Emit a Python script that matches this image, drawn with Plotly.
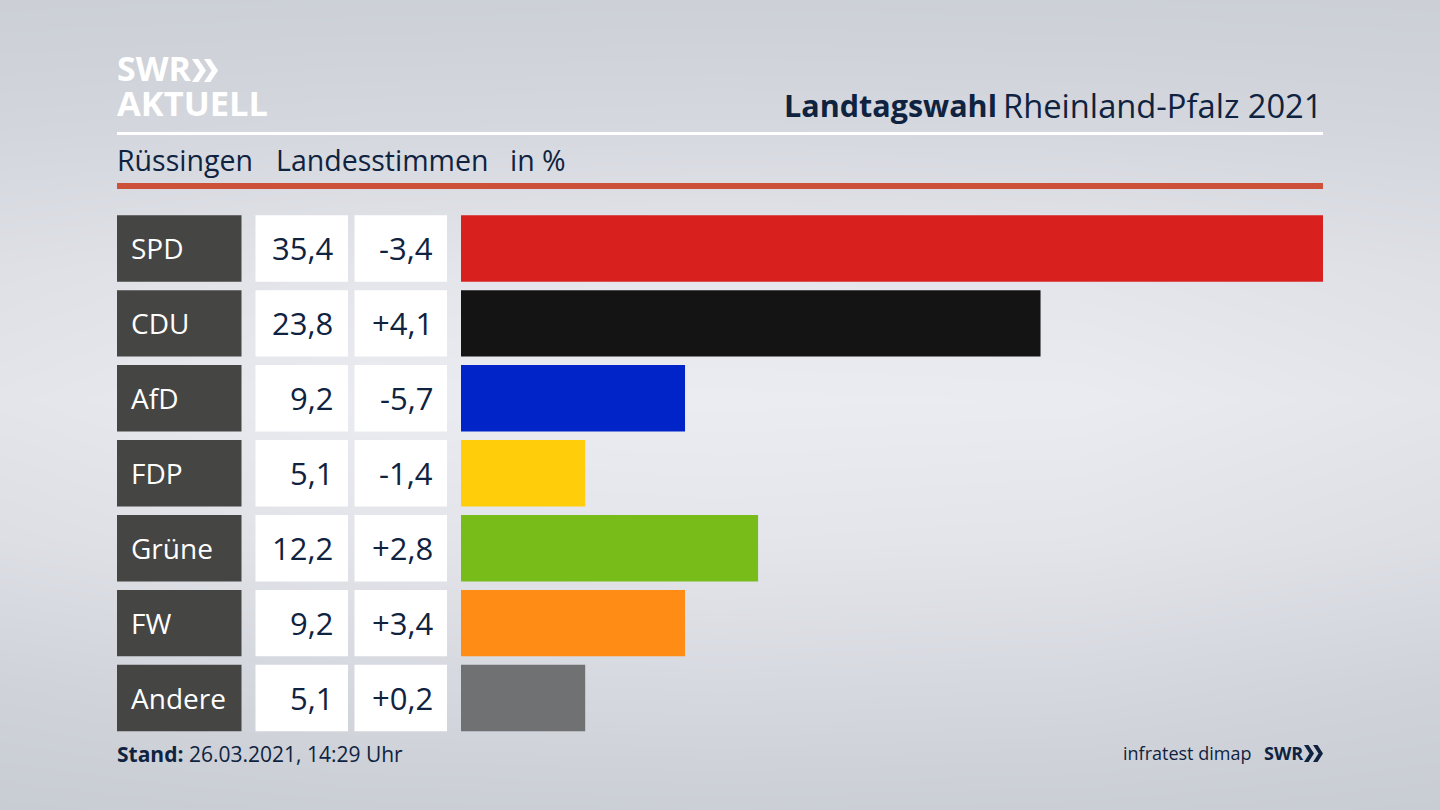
import plotly.graph_objects as go

# =============================================================================
# Data
# =============================================================================
parties = ['SPD', 'CDU', 'AfD', 'FDP', 'Grüne', 'FW', 'Andere']
shares = [35.4, 23.8, 9.2, 5.1, 12.2, 9.2, 5.1]
changes = [-3.4, 4.1, -5.7, -1.4, 2.8, 3.4, 0.2]
bar_colors = ['#d8201f', '#141414', '#0024c8', '#ffcd0a', '#78bc1a', '#ff8c14', '#707173']

# background brightness (rows top to bottom)
bg_x = [0, 360, 720, 1080, 1440]
bg_y = [0, 130, 270, 400, 540, 680, 810]
bg_levels = [
    [0.10, 0.12, 0.13, 0.12, 0.10],
    [0.30, 0.36, 0.38, 0.36, 0.30],
    [0.62, 0.78, 0.82, 0.78, 0.62],
    [0.78, 0.98, 1.00, 0.98, 0.78],
    [0.58, 0.76, 0.80, 0.76, 0.58],
    [0.22, 0.38, 0.42, 0.38, 0.22],
    [0.00, 0.06, 0.08, 0.06, 0.00],
]

NAVY = '#0f2340'
FONT = 'Open Sans'


def px_x(v):
    return v / 1440


def px_y(v):
    return 1 - v / 810


def de(v, sign=False):
    return (f'{v:+.1f}' if sign else f'{v:.1f}').replace('.', ',')


fig = go.Figure()

# gradient background
fig.add_trace(go.Heatmap(
    x=bg_x, y=bg_y, z=bg_levels, zsmooth='best', showscale=False, hoverinfo='skip',
    colorscale=[[0, '#c8ccd3'], [1, '#ebecf1']], zmin=0, zmax=1,
    xaxis='x', yaxis='y',
))

# result bars
fig.add_trace(go.Bar(
    x=shares, y=parties, orientation='h', marker_color=bar_colors, marker_line_width=0,
    xaxis='x2', yaxis='y2', hovertemplate='%{y}: %{x}<extra></extra>',
))

fig.update_layout(
    width=1440, height=810, margin=dict(l=0, r=0, t=0, b=0),
    showlegend=False, bargap=0.113,
    paper_bgcolor='#dfe1e6', plot_bgcolor='rgba(0,0,0,0)',
    font=dict(family=FONT, color=NAVY),
    xaxis=dict(domain=[0, 1], range=[0, 1440], visible=False, fixedrange=True),
    yaxis=dict(domain=[0, 1], range=[810, 0], visible=False, fixedrange=True),
    xaxis2=dict(domain=[px_x(461), px_x(1323)], range=[0, 35.4], visible=False, anchor='y2'),
    yaxis2=dict(domain=[px_y(735.5), px_y(211)], range=[6.5, -0.5], type='category',
                categoryorder='array', categoryarray=parties, visible=False, anchor='x2'),
)

# table cells in front of the bars column
half = 0.4435
for i, (party, share, change) in enumerate(zip(parties, shares, changes)):
    for x0, x1, color in [(117, 241.5, '#454543'), (255.5, 348, '#ffffff'), (354.5, 447, '#ffffff')]:
        fig.add_shape(type='rect', xref='x', yref='y2', x0=x0, x1=x1, y0=i - half, y1=i + half,
                      fillcolor=color, line_width=0)
    fig.add_annotation(xref='x', yref='y2', x=129, y=i, text=party, showarrow=False, xanchor='left',
                       font=dict(size=28, color='#ffffff'))
    fig.add_annotation(xref='x', yref='y2', x=335, y=i, text=de(share), showarrow=False, xanchor='right',
                       font=dict(size=31, color=NAVY))
    fig.add_annotation(xref='x', yref='y2', x=435, y=i, text=de(change, sign=True), showarrow=False,
                       xanchor='right', font=dict(size=31, color=NAVY))

# rules under the header
fig.add_shape(type='rect', xref='x', yref='y', x0=117, x1=1323, y0=132, y1=135, fillcolor='#ffffff', line_width=0)
fig.add_shape(type='rect', xref='x', yref='y', x0=117, x1=1323, y0=183, y1=189, fillcolor='#cc5138', line_width=0)


def label(x, y, text, size, color=NAVY, anchor='left'):
    fig.add_annotation(xref='x', yref='y', x=x, y=y, text=text, showarrow=False, xanchor=anchor,
                       yanchor='middle', font=dict(size=size, color=color))


def chevrons(x, y0, y1, width, gap, color):
    # the two arrow heads of the SWR logo
    mid = (y0 + y1) / 2
    for left in (x, x + gap):
        path = (f'M {left},{y0} L {left + width * 0.45},{y0} L {left + width},{mid} '
                f'L {left + width * 0.45},{y1} L {left},{y1} L {left + width * 0.55},{mid} Z')
        fig.add_shape(type='path', xref='x', yref='y', path=path, fillcolor=color, line_width=0)


# logo
label(115, 68, '<b>SWR</b>', 34, '#ffffff')
chevrons(192, 59, 82, 14, 12, '#ffffff')
label(115, 102, '<b>AKTUELL</b>', 34.5, '#ffffff')

# header
label(999, 105, '<b>Landtagswahl</b>', 30.5, anchor='right')
label(1325, 105, 'Rheinland-Pfalz 2021', 32.7, anchor='right')
label(115, 160, 'Rüssingen', 28.5)
label(274, 160, 'Landesstimmen', 28.5)
label(508, 160, 'in %', 28.5)

# footer
label(115, 754, '<b>Stand:</b> 26.03.2021, 14:29 Uhr', 21)
label(1253, 753, 'infratest dimap', 18, anchor='right')
label(1305, 753, '<b>SWR</b>', 18, anchor='right')
chevrons(1304, 745, 762, 10, 9, NAVY)

fig.write_html('out.html', post_script="document.body.style.margin='0';",
               config={'displayModeBar': False})
